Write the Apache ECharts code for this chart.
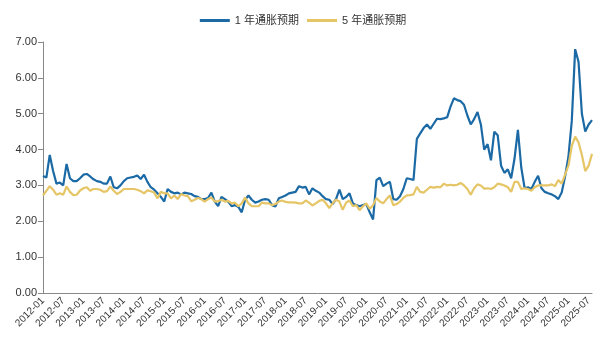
<!DOCTYPE html>
<html>
<head>
<meta charset="utf-8">
<script src="https://cdn.jsdelivr.net/npm/echarts@6/dist/echarts.min.js"></script>
<style>
  html, body { margin: 0; padding: 0; background: #ffffff; }
  #chart { width: 606px; height: 341px; }
</style>
</head>
<body>
<div id="chart"></div>
<script>
// Monthly observations, 2012-01 through 2025-08
const startYear = 2012;
const monthCount = 164;
const months = [];
for (let i = 0; i < monthCount; i++) {
  const y = startYear + Math.floor(i / 12);
  const m = (i % 12) + 1;
  months.push(y + '-' + (m < 10 ? '0' + m : '' + m));
}

// 1-year inflation expectation (%)
const expect1y = [
  3.26, 3.22, 3.85, 3.40, 3.05, 3.08, 3.00, 3.60, 3.20, 3.12, 3.12, 3.20,
  3.30, 3.32, 3.25, 3.17, 3.12, 3.10, 3.05, 3.05, 3.25, 2.95, 2.92, 3.00,
  3.12, 3.20, 3.22, 3.24, 3.28, 3.18, 3.30, 3.10, 2.95, 2.88, 2.78, 2.68,
  2.55, 2.90, 2.82, 2.78, 2.80, 2.75, 2.80, 2.78, 2.76, 2.70, 2.68, 2.62,
  2.62, 2.65, 2.80, 2.55, 2.42, 2.68, 2.62, 2.55, 2.42, 2.45, 2.40, 2.25,
  2.60, 2.72, 2.60, 2.52, 2.55, 2.60, 2.62, 2.60, 2.45, 2.41, 2.64, 2.68,
  2.72, 2.78, 2.80, 2.82, 2.98, 2.94, 2.96, 2.75, 2.92, 2.85, 2.80, 2.70,
  2.62, 2.60, 2.48, 2.62, 2.88, 2.62, 2.68, 2.78, 2.50, 2.45, 2.42, 2.45,
  2.48, 2.25, 2.05, 3.15, 3.22, 2.98, 3.05, 3.10, 2.62, 2.60, 2.70, 2.90,
  3.20, 3.18, 3.15, 4.30, 4.45, 4.60, 4.70, 4.58, 4.72, 4.86, 4.85, 4.87,
  4.90, 5.20, 5.43, 5.38, 5.35, 5.25, 4.95, 4.70, 4.85, 5.05, 4.70, 4.00,
  4.15, 3.70, 4.50, 4.40, 3.55, 3.35, 3.45, 3.20, 3.75, 4.55, 3.50, 2.92,
  2.95, 2.90, 3.10, 3.27, 2.92, 2.82, 2.78, 2.75, 2.70, 2.62, 2.80, 3.25,
  3.80, 4.80, 6.80, 6.45, 5.00, 4.50, 4.70, 4.82
];

// 5-year inflation expectation (%)
const expect5y = [
  2.72, 2.85, 2.98, 2.88, 2.74, 2.78, 2.74, 2.97, 2.82, 2.73, 2.74, 2.86,
  2.92, 2.95, 2.85, 2.90, 2.90, 2.88, 2.82, 2.84, 2.97, 2.85, 2.76, 2.82,
  2.90, 2.90, 2.90, 2.90, 2.88, 2.84, 2.78, 2.86, 2.84, 2.80, 2.64, 2.82,
  2.78, 2.78, 2.64, 2.72, 2.62, 2.76, 2.72, 2.70, 2.56, 2.60, 2.65, 2.62,
  2.55, 2.62, 2.66, 2.55, 2.56, 2.60, 2.55, 2.57, 2.50, 2.52, 2.42, 2.50,
  2.66, 2.50, 2.42, 2.42, 2.42, 2.52, 2.50, 2.50, 2.45, 2.48, 2.55, 2.58,
  2.54, 2.53, 2.53, 2.52, 2.50, 2.50, 2.58, 2.52, 2.44, 2.50, 2.57, 2.60,
  2.50, 2.37, 2.50, 2.60, 2.55, 2.32, 2.52, 2.58, 2.42, 2.45, 2.31, 2.42,
  2.50, 2.35, 2.45, 2.65, 2.55, 2.50, 2.62, 2.72, 2.45, 2.48, 2.55, 2.65,
  2.72, 2.73, 2.75, 2.96, 2.82, 2.80, 2.88, 2.96, 2.94, 2.96, 2.95, 3.05,
  3.00, 3.02, 3.00, 3.02, 3.07, 3.00, 2.90, 2.74, 2.92, 3.03, 3.00, 2.91,
  2.92, 2.90, 2.95, 3.05, 3.03, 3.00, 2.95, 2.82, 3.10, 3.10, 2.90, 2.92,
  2.90, 2.85, 2.95, 3.00, 3.00, 3.00, 3.00, 3.03, 2.98, 3.15, 3.05, 3.30,
  3.55, 4.10, 4.36, 4.20, 3.85, 3.40, 3.55, 3.88
];

// Value axis ticks
const yTicks = ['0.00', '1.00', '2.00', '3.00', '4.00', '5.00', '6.00', '7.00'];

const seriesNames = ['1 年通胀预期', '5 年通胀预期'];
const seriesColors = ['#1b6aa5', '#e5c566'];

const chart = echarts.init(document.getElementById('chart'), null, { renderer: 'canvas' });

chart.setOption({
  animation: false,
  backgroundColor: '#ffffff',
  textStyle: { fontFamily: 'Liberation Sans, Noto Sans CJK SC, sans-serif' },
  legend: {
    top: 10,
    left: 'center',
    itemWidth: 30,
    itemHeight: 3,
    itemGap: 8,
    icon: 'rect',
    textStyle: { fontSize: 11, color: '#333333' },
    data: seriesNames
  },
  grid: { left: 43, right: 14, top: 42, bottom: 48, containLabel: false },
  xAxis: {
    type: 'category',
    data: months,
    boundaryGap: false,
    axisLine: { lineStyle: { color: '#888888', width: 1 } },
    axisTick: { show: false },
    axisLabel: {
      interval: 5,
      rotate: 45,
      fontSize: 10,
      color: '#333333',
      margin: 6
    },
    splitLine: { show: false }
  },
  yAxis: {
    type: 'value',
    min: 0,
    max: 7,
    interval: 1,
    axisLine: { show: true, lineStyle: { color: '#888888', width: 1 } },
    axisTick: { show: true, length: 5, lineStyle: { color: '#888888' } },
    axisLabel: {
      fontSize: 11,
      color: '#333333',
      margin: 6,
      formatter: function (v) { return yTicks[Math.round(v)] || v.toFixed(2); }
    },
    splitLine: { show: false }
  },
  series: [
    {
      name: seriesNames[0],
      type: 'line',
      data: expect1y,
      showSymbol: false,
      symbol: 'none',
      lineStyle: { width: 2.2, color: seriesColors[0] },
      itemStyle: { color: seriesColors[0] }
    },
    {
      name: seriesNames[1],
      type: 'line',
      data: expect5y,
      showSymbol: false,
      symbol: 'none',
      lineStyle: { width: 2.2, color: seriesColors[1] },
      itemStyle: { color: seriesColors[1] }
    }
  ]
});
</script>
</body>
</html>
